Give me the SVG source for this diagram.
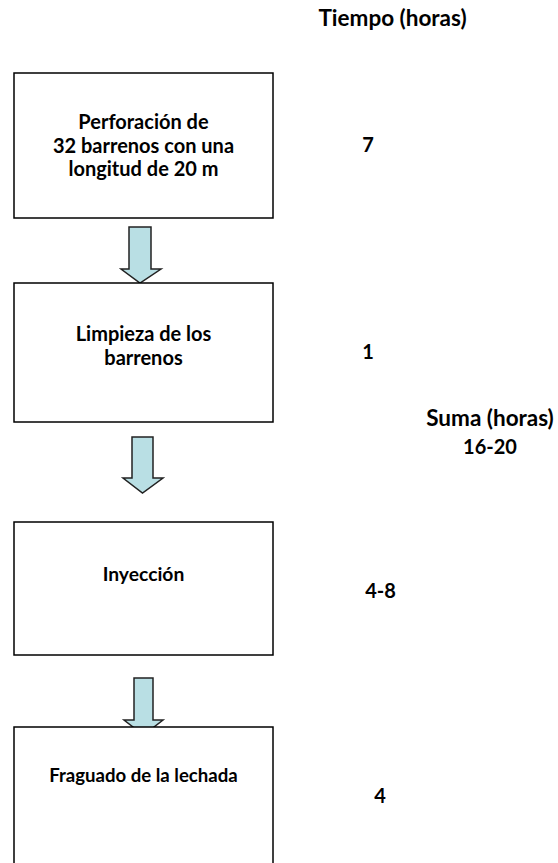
<svg xmlns="http://www.w3.org/2000/svg" width="558" height="863" viewBox="0 0 558 863">
<style>
.box{fill:#fff;stroke:#000;stroke-width:1.5}
.arr{fill:#b9dfe4;stroke:#222;stroke-width:1.5;stroke-linejoin:miter}
.t{font-family:Lato,"Liberation Sans",sans-serif;font-weight:bold;font-size:20px;fill:#000;text-anchor:middle}
.h{font-size:22.5px}
</style>
<rect width="558" height="863" fill="#fff"/>
<g id="connectors">
<path class="arr" d="M129,227 H151 V269 H161 L140,283 L121,269 H129 Z"/>
<path class="arr" d="M132,437 H153 V478 H163 L142.5,493 L123,478 H132 Z"/>
<path class="arr" d="M134,678 H153 V720 H163 L143.5,735 L124,720 H134 Z"/>
</g>
<g id="node1">
<rect class="box" x="14" y="73" width="259" height="145"/>
<text class="t" x="143.5" y="129">Perforación de</text>
<text class="t" x="143.5" y="153">32 barrenos con una</text>
<text class="t" x="143.5" y="176">longitud de 20 m</text>
</g>
<g id="node2">
<rect class="box" x="14" y="283" width="259" height="139"/>
<text class="t" x="143.5" y="341">Limpieza de los</text>
<text class="t" x="143.5" y="365">barrenos</text>
</g>
<g id="node3">
<rect class="box" x="14" y="522" width="259" height="133"/>
<text class="t" x="143.5" y="581" style="font-size:19.3px">Inyección</text>
</g>
<g id="node4">
<rect class="box" x="14" y="727" width="259" height="140"/>
<text class="t" x="143.5" y="782" style="font-size:18.6px">Fraguado de la lechada</text>
</g>
<g id="labels">
<text class="t h" x="392.5" y="26">Tiempo (horas)</text>
<text class="t" x="368" y="152">7</text>
<text class="t" x="368" y="359">1</text>
<text class="t" x="380.5" y="598">4-8</text>
<text class="t" x="380" y="803">4</text>
<text class="t h" x="490" y="426">Suma (horas)</text>
<text class="t" x="490" y="454">16-20</text>
</g>
</svg>
